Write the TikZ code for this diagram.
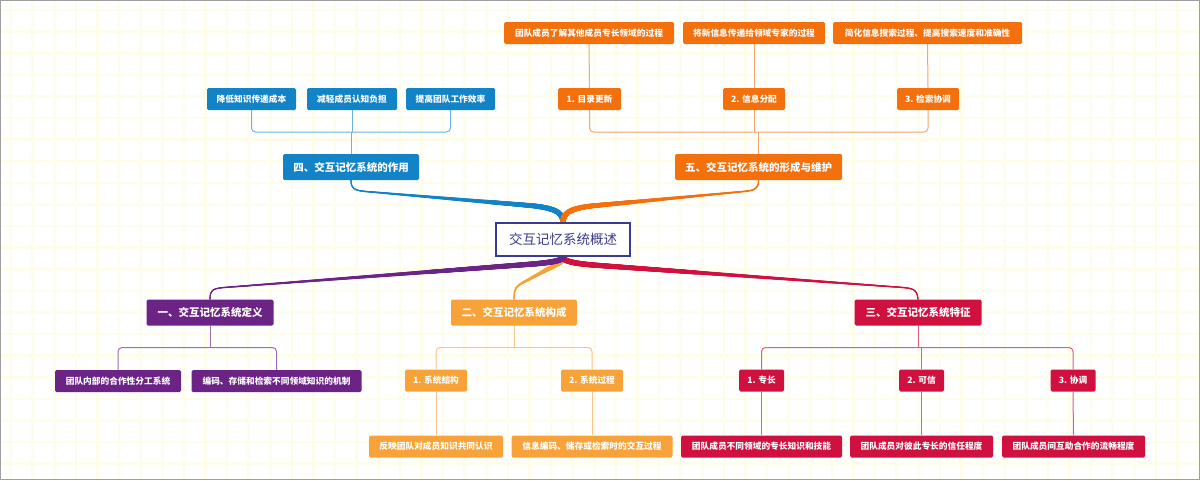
\documentclass[tikz,border=0pt]{standalone}
\usepackage{fontspec}
\setmainfont{Noto Sans CJK SC}
\usetikzlibrary{decorations.markings,calc}
\definecolor{cBlue}{HTML}{1283C6}
\definecolor{cBlueL}{HTML}{6DB3E0}
\definecolor{cOr}{HTML}{F4700D}
\definecolor{cOrL}{HTML}{F2A76E}
\definecolor{cPu}{HTML}{6B2385}
\definecolor{cPuL}{HTML}{9E70B2}
\definecolor{cLo}{HTML}{F8A23A}
\definecolor{cLoL}{HTML}{F7C68E}
\definecolor{cRe}{HTML}{D0103F}
\definecolor{cReL}{HTML}{DB5F80}
\definecolor{cNavy}{HTML}{3A3A8E}
\definecolor{cGrid}{HTML}{FDFDE9}
\pgfdeclarelayer{bg}
\pgfsetlayers{bg,main}
\begin{document}
\begin{tikzpicture}[x=1pt,y=-1pt,
  box/.style={rounded corners=1.5pt, inner sep=0pt, text=white, align=center, anchor=center},
  mainb/.style={box, fill=#1, minimum height=26pt, font=\fontsize{10.5}{12}\selectfont\bfseries},
  smallb/.style={box, fill=#1, minimum height=22pt, font=\fontsize{8.7}{10}\selectfont\bfseries},
  bus/.style={draw=#1, line width=1pt, rounded corners=4pt},
  taper/.style={draw=#1, line width=1.1pt, postaction={decorate, decoration={markings,
     mark=between positions 0 and 1 step 0.4pt with {%
       \pgfmathsetmacro\tr{0.55+2.3*\pgfkeysvalueof{/pgf/decoration/mark info/distance from start}/\pgfdecoratedpathlength}%
       \fill[#1] (0,0) circle[radius=\tr pt];}}}}
]
\useasboundingbox (0,0) rectangle (1200,480);
\begin{pgfonlayer}{bg}
\fill[white] (0,0) rectangle (1200,480);
\foreach \i in {0,...,55} \draw[cGrid, line width=2.6pt] ({11+21.6*\i},0) -- ({11+21.6*\i},480);
\foreach \j in {0,...,22} \draw[cGrid, line width=2.6pt] (0,{10+21.6*\j}) -- (1200,{10+21.6*\j});
\end{pgfonlayer}

% root
\node[draw=cNavy, line width=1.2pt, fill=white, text=cNavy, minimum width=134pt, minimum height=33pt, inner sep=0pt, font=\fontsize{13.5}{15}\selectfont] (root) at (563,239.5) {交互记忆系统概述};

% blue
\node[mainb=cBlue, minimum width=136pt] (n4) at (351,167) {四、交互记忆系统的作用};
\node[smallb=cBlue, minimum width=89pt] (a1) at (251.5,99) {降低知识传递成本};
\node[smallb=cBlue, minimum width=90pt] (a2) at (352,99) {减轻成员认知负担};
\node[smallb=cBlue, minimum width=89pt] (a3) at (450.5,99) {提高团队工作效率};

% orange
\node[mainb=cOr, minimum width=167pt] (n5) at (758.5,167) {五、交互记忆系统的形成与维护};
\node[smallb=cOr, minimum width=63pt] (b1) at (589.5,99) {1. 目录更新};
\node[smallb=cOr, minimum width=62pt] (b2) at (754,99) {2. 信息分配};
\node[smallb=cOr, minimum width=62pt] (b3) at (928,99) {3. 检索协调};
\node[smallb=cOr, minimum width=170pt] (d1) at (589,33) {团队成员了解其他成员专长领域的过程};
\node[smallb=cOr, minimum width=142pt] (d2) at (754,33) {将新信息传递给领域专家的过程};
\node[smallb=cOr, minimum width=189pt] (d3) at (927.5,33) {简化信息搜索过程、提高搜索速度和准确性};

% purple
\node[mainb=cPu, minimum width=127pt] (n1) at (210,312.5) {一、交互记忆系统定义};
\node[smallb=cPu, minimum width=126pt] (p1) at (118,381) {团队内部的合作性分工系统};
\node[smallb=cPu, minimum width=170pt] (p2) at (276.5,381) {编码、存储和检索不同领域知识的机制};

% light orange
\node[mainb=cLo, minimum width=126pt] (n2) at (514,312.5) {二、交互记忆系统构成};
\node[smallb=cLo, minimum width=62pt] (q1) at (436,380.5) {1. 系统结构};
\node[smallb=cLo, minimum width=62pt] (q2) at (592,380.5) {2. 系统过程};
\node[smallb=cLo, minimum width=134pt] (r1) at (436,446.5) {反映团队对成员知识共同认识};
\node[smallb=cLo, minimum width=161pt] (r2) at (592,446.5) {信息编码、储存或检索时的交互过程};

% crimson
\node[mainb=cRe, minimum width=127pt] (n3) at (918,312.5) {三、交互记忆系统特征};
\node[smallb=cRe, minimum width=45pt] (s1) at (761.5,380.5) {1. 专长};
\node[smallb=cRe, minimum width=45pt] (s2) at (921.5,380.5) {2. 可信};
\node[smallb=cRe, minimum width=45pt] (s3) at (1073,380.5) {3. 协调};
\node[smallb=cRe, minimum width=161pt] (t1) at (761.5,446.5) {团队成员不同领域的专长知识和技能};
\node[smallb=cRe, minimum width=143pt] (t2) at (921.5,446.5) {团队成员对彼此专长的信任程度};
\node[smallb=cRe, minimum width=143pt] (t3) at (1073.5,446.5) {团队成员间互助合作的流畅程度};

\coordinate (h4) at (0,132);
\coordinate (h5) at (0,132);
\coordinate (h1) at (0,347.5);
\coordinate (h2) at (0,347.5);
\coordinate (h3) at (0,347.5);

\begin{pgfonlayer}{bg}
% bus connectors
\draw[bus=cBlueL] (a1.south) -- (a1.south |- h4) -- (a3.south |- h4) -- (a3.south);
\draw[bus=cBlueL] (n4.north) -- (n4.north |- h4);
\draw[bus=cBlueL] (a2.south) -- (a2.south |- h4);

\draw[bus=cOrL] (b1.south) -- (b1.south |- h5) -- (b3.south |- h5) -- (b3.south);
\draw[bus=cOrL] (n5.north) -- (n5.north |- h5);
\draw[bus=cOrL] (b2.south) -- (b2.south |- h5);
\draw[bus=cOrL] (d1.south) -- (b1.north);
\draw[bus=cOrL] (d2.south) -- (b2.north);
\draw[bus=cOrL] (d3.south) -- (b3.north);

\draw[bus=cPuL] (p1.north) -- (p1.north |- h1) -- (p2.north |- h1) -- (p2.north);
\draw[bus=cPuL] (n1.south) -- (n1.south |- h1);

\draw[bus=cLoL] (q1.north) -- (q1.north |- h2) -- (q2.north |- h2) -- (q2.north);
\draw[bus=cLoL] (n2.south) -- (n2.south |- h2);
\draw[bus=cLoL] (q1.south) -- (r1.north);
\draw[bus=cLoL] (q2.south) -- (r2.north);

\draw[bus=cReL] (s1.north) -- (s1.north |- h3) -- (s3.north |- h3) -- (s3.north);
\draw[bus=cReL] (n3.south) -- (n3.south |- h3);
\draw[bus=cReL] (s2.north) -- (s2.north |- h3);
\draw[bus=cReL] (s1.south) -- (t1.north);
\draw[bus=cReL] (s2.south) -- (t2.north);
\draw[bus=cReL] (s3.south) -- (t3.north);

% tapered main branches
\path[taper=cBlue] (n4.south) .. controls (351,189) and (355,190.5) .. (366,191.5) -- (530,205.5) .. controls (556,208) and (563,213) .. (root.north);
\path[taper=cOr] (n5.south) .. controls (758.5,189) and (754.5,190.5) .. (743,191.5) -- (596,205.5) .. controls (570,208) and (563,213) .. (root.north);
\path[taper=cLo] (n2.north) .. controls (514,289) and (516,286) .. (524,282) -- (550,268) .. controls (558,263.5) and (563,262) .. (root.south);
\path[taper=cRe] (n3.north) .. controls (917,290) and (914,288.5) .. (903,287.5) -- (593,265) .. controls (570,263) and (563,260.5) .. (root.south);
\path[taper=cPu] (n1.north) .. controls (210,290) and (213,288.5) .. (224,287.5) -- (533,264) .. controls (556,262) and (563,260) .. (root.south);
\end{pgfonlayer}

\draw[gray!75, line width=1.2pt] (0.6,0.6) rectangle (1199.4,479.4);
\end{tikzpicture}
\end{document}
